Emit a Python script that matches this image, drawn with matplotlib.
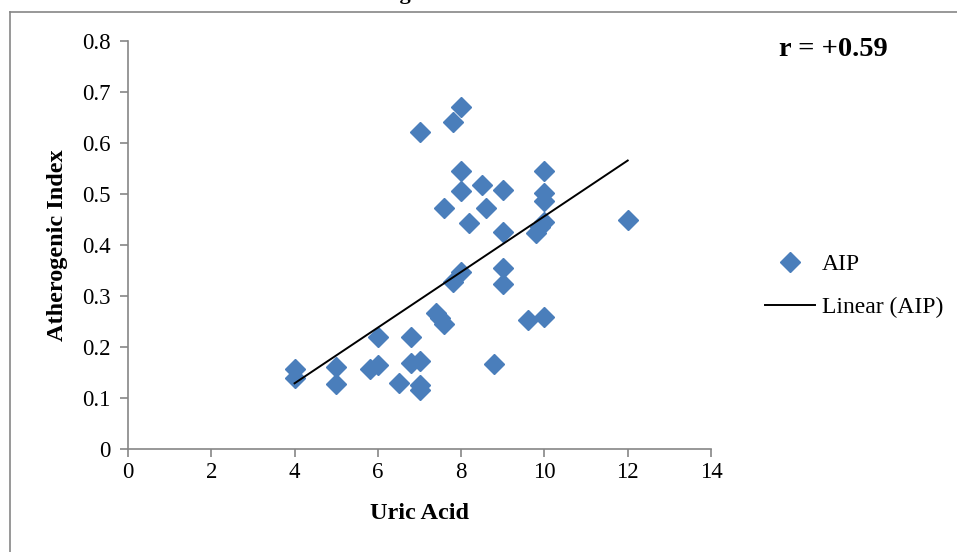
import numpy as np
import matplotlib
matplotlib.use("Agg")
import matplotlib.pyplot as plt
from matplotlib.lines import Line2D

# ---- data ----
uric_acid = [4, 4, 5, 5, 5.8, 6, 6, 6.5, 6.8, 6.8, 7, 7, 7, 7, 7.4, 7.5, 7.6, 7.6,
             7.8, 7.8, 8, 8, 8, 8, 8.2, 8.5, 8.6, 8.8, 9, 9, 9, 9, 9.6, 9.8, 9.9,
             10, 10, 10, 10, 10, 12]
aip = [0.157, 0.139, 0.161, 0.127, 0.156, 0.165, 0.219, 0.129, 0.219, 0.168,
       0.172, 0.126, 0.116, 0.622, 0.266, 0.257, 0.245, 0.472, 0.642, 0.328,
       0.671, 0.546, 0.506, 0.348, 0.444, 0.517, 0.472, 0.166, 0.507, 0.425,
       0.354, 0.323, 0.252, 0.424, 0.435, 0.546, 0.501, 0.487, 0.446, 0.259,
       0.449]
x_ticks = [0, 2, 4, 6, 8, 10, 12, 14]
y_ticks = [0, 0.1, 0.2, 0.3, 0.4, 0.5, 0.6, 0.7, 0.8]
y_tick_labels = ["0", "0.1", "0.2", "0.3", "0.4", "0.5", "0.6", "0.7", "0.8"]
title_text = "Atherogenic Index"
x_label = "Uric Acid"
y_label = "Atherogenic Index"
r_text = "r = +0.59"
series_label = "AIP"
trend_label = "Linear (AIP)"

W, H = 957, 552
plt.rcParams['font.family'] = ['Liberation Serif', 'DejaVu Serif']
fig = plt.figure(figsize=(W / 100, H / 100), dpi=100)
fig.patch.set_facecolor('white')

# outer chart border (top and left visible)
border_col = '#868686'
fig.add_artist(Line2D([9.5 / W, 1.0], [1 - 12 / H, 1 - 12 / H], transform=fig.transFigure,
                      color=border_col, lw=1.2))
fig.add_artist(Line2D([9.5 / W, 9.5 / W], [0, 1 - 12 / H], transform=fig.transFigure,
                      color=border_col, lw=1.2))

# clipped title (only the descender shows at the very top)
fig.text(333 / W, 1 + 0.5 / H, title_text, ha='left', va='baseline',
         fontsize=16, fontweight='bold')

ax = fig.add_axes([128 / W, 1 - 449 / H, (711 - 128) / W, (449 - 41) / H])
ax.set_xlim(0, 14)
ax.set_ylim(0, 0.8)
ax.set_xticks(x_ticks)
ax.set_yticks(y_ticks)
ax.set_yticklabels(y_tick_labels)
for s in ['top', 'right']:
    ax.spines[s].set_visible(False)
for s in ['left', 'bottom']:
    ax.spines[s].set_color(border_col)
    ax.spines[s].set_linewidth(1.2)
ax.tick_params(axis='both', direction='out', length=5.5, width=1.2, color=border_col,
               labelsize=16.5, labelcolor='black')
ax.tick_params(axis='y', pad=7)
ax.tick_params(axis='x', pad=4)

pts, = ax.plot(uric_acid, aip, linestyle='none', marker='D', markersize=10.5,
               color='#4A7EBB', markeredgecolor='#4A7EBB', label=series_label,
               zorder=3, clip_on=False)

slope, intercept = np.polyfit(uric_acid, aip, 1)
xs = np.array([min(uric_acid), max(uric_acid)])
trend, = ax.plot(xs, slope * xs + intercept, color='black', lw=1.4, label=trend_label, zorder=4)

ax.set_xlabel(x_label, fontsize=17.5, fontweight='bold', labelpad=14)
ax.set_ylabel(y_label, fontsize=17.5, fontweight='bold', labelpad=10)

fig.text(833 / W, 1 - 49 / H, r_text, ha='center', va='center', fontsize=20.5,
         fontweight='bold')

fig.legend(handles=[pts, trend], loc='center left',
           bbox_to_anchor=(765 / W, 1 - 286 / H), frameon=False, fontsize=17,
           handlelength=2.1, handletextpad=0.3, labelspacing=0.9, borderpad=0,
           borderaxespad=0)

fig.savefig('out.png', dpi=100, facecolor='white')
